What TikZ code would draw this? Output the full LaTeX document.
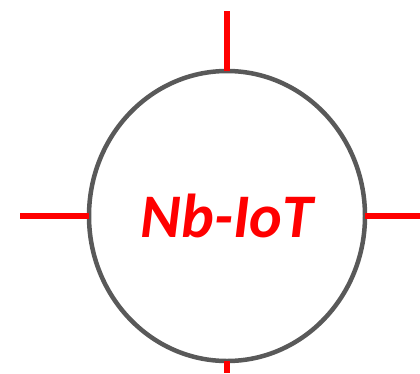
\documentclass[tikz,border=0pt]{standalone}
\usepackage{fontspec}
\setsansfont{Carlito}
\usetikzlibrary{shapes.geometric}
\definecolor{ringgray}{RGB}{89,89,89}
\definecolor{iotred}{RGB}{255,0,0}
\begin{document}
\begin{tikzpicture}[x=1pt,y=-1pt,
  ring/.style={ellipse,draw=ringgray,line width=4.5pt,minimum width=276pt,minimum height=290pt,inner sep=0pt,outer sep=0pt},
  stub/.style={draw=iotred,line width=6pt}]
\useasboundingbox (0,0) rectangle (420,373);
\node[ring,text=iotred,font=\sffamily\bfseries\itshape\fontsize{62}{62}\selectfont] (ring) at (227,216) {Nb-IoT};

\coordinate (top) at (227,11);
\coordinate (left) at (20,216);
\coordinate (right) at (420,216);
\coordinate (bottom) at (227,373);

\draw[stub] (ring.north) -- (top);
\draw[stub] (ring.west) -- (left);
\draw[stub] (ring.east) -- (right);
\draw[stub] (ring.south) -- (bottom);
\end{tikzpicture}
\end{document}
